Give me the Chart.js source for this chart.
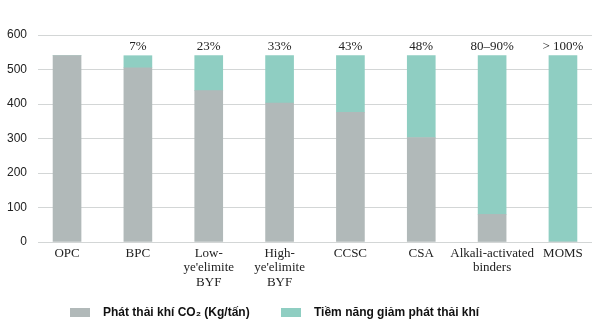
<!DOCTYPE html>
<html>
<head>
<meta charset="utf-8">
<script src="https://cdn.jsdelivr.net/npm/chart.js@4"></script>
<style>
    html, body { margin: 0; padding: 0; background: #fff; }
    #wrap { position: relative; width: 598px; height: 334px; }
    .legend-item { position: absolute; top: 305px; display: flex; align-items: center;
        font: bold 12px "Liberation Sans", Arial, sans-serif; color: #111; white-space: nowrap; }
    .legend-box { width: 20px; height: 9px; margin-right: 13px; }
</style>
</head>
<body>
<div id="wrap">
    <canvas id="chart" width="598" height="334"></canvas>
    <div class="legend-item" style="left:70px"><span class="legend-box" style="background:#b1b9b9"></span>Phát thải khí CO₂ (Kg/tấn)</div>
    <div class="legend-item" style="left:281px"><span class="legend-box" style="background:#8fcec2"></span>Tiềm năng giảm phát thải khí</div>
</div>
<script>
// Chart data
const categories = ['OPC', 'BPC', ['Low-', "ye'elimite", 'BYF'], ['High-', "ye'elimite", 'BYF'],
    'CCSC', 'CSA', ['Alkali-activated', 'binders'], 'MOMS'];
const emissions = [540, 505, 439, 403, 376, 303, 80, 0];
const reduction = [0, 35, 101, 137, 164, 237, 460, 540];
const percentLabels = ['', '7%', '23%', '33%', '43%', '48%', '80–90%', '> 100%'];
const yTicks = [0, 100, 200, 300, 400, 500, 600];

const GRAY = '#b1b9b9';
const TEAL = '#8fcec2';

// Percent labels on top of each stack
const topLabels = {
    id: 'topLabels',
    afterDatasetsDraw(chart) {
        const { ctx } = chart;
        const meta = chart.getDatasetMeta(1);
        ctx.save();
        ctx.font = '13px "Liberation Serif", serif';
        ctx.fillStyle = '#222';
        ctx.textAlign = 'center';
        ctx.textBaseline = 'bottom';
        meta.data.forEach((bar, i) => {
            if (percentLabels[i]) ctx.fillText(percentLabels[i], bar.x, bar.y - 3);
        });
        ctx.restore();
    }
};

new Chart(document.getElementById('chart'), {
    type: 'bar',
    data: {
        datasets: [
            {
                label: 'Phát thải khí CO2 (Kg/tấn)',
                data: emissions.map((v, i) => ({ x: i, y: v })),
                backgroundColor: GRAY,
                barThickness: 28
            },
            {
                label: 'Tiềm năng giảm phát thải khí',
                data: reduction.map((v, i) => ({ x: i, y: v })),
                backgroundColor: TEAL,
                barThickness: 28
            }
        ]
    },
    options: {
        responsive: false,
        animation: false,
        layout: { padding: { top: 35, right: 6, left: 0, bottom: 0 } },
        plugins: {
            legend: { display: false },
            tooltip: { enabled: false }
        },
        scales: {
            x: {
                type: 'linear',
                stacked: true,
                offset: false,
                min: -0.41,
                max: 7.41,
                afterBuildTicks: scale => {
                    scale.ticks = categories.map((_, i) => ({ value: i }));
                },
                afterFit: scale => { scale.height = 92; },
                grid: { display: false, drawTicks: false },
                border: { display: false },
                ticks: {
                    autoSkip: false,
                    maxRotation: 0,
                    padding: 4,
                    color: '#222',
                    font: { family: '"Liberation Serif", serif', size: 13, lineHeight: 1.12 },
                    callback: value => categories[value]
                }
            },
            y: {
                stacked: true,
                min: 0,
                max: 600,
                afterBuildTicks: scale => {
                    scale.ticks = yTicks.map(v => ({ value: v }));
                },
                afterFit: scale => { scale.width = 38; },
                grid: { color: '#d3d6d6', lineWidth: 1, drawTicks: false },
                border: { display: false },
                ticks: {
                    padding: 11,
                    color: '#222',
                    font: { family: '"Liberation Sans", Arial, sans-serif', size: 12 }
                }
            }
        }
    },
    plugins: [topLabels]
});
</script>
</body>
</html>
